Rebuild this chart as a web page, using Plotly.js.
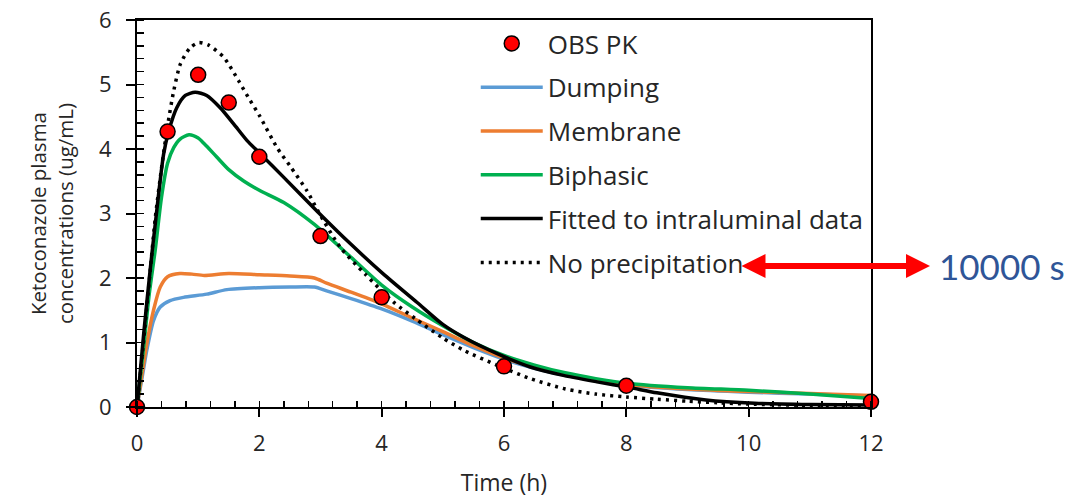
<!DOCTYPE html>
<html>
<head>
<meta charset="utf-8">
<script src="https://cdn.plot.ly/plotly-3.0.1.min.js"></script>
<style>html,body{margin:0;padding:0;background:#fff;}#chart{width:1076px;height:498px;}</style>
</head>
<body>
<div id="chart"></div>
<script>
// Observed PK
const obsT = [0, 0.5, 1, 1.5, 2, 3, 4, 6, 8, 12];
const obsC = [0, 4.27, 5.15, 4.72, 3.88, 2.65, 1.70, 0.63, 0.33, 0.08];

// Dumping
const dumpT = [0, 0.1, 0.16, 0.27, 0.38, 0.54, 0.76, 1.14, 1.47, 2.0, 2.5, 2.9, 3.1, 3.5, 4.0, 4.5, 5.0, 5.5, 6, 6.5, 7, 7.5, 8, 9, 10, 11, 12];
const dumpC = [0, 0.55, 0.88, 1.34, 1.55, 1.65, 1.70, 1.75, 1.82, 1.85, 1.86, 1.86, 1.80, 1.68, 1.52, 1.33, 1.12, 0.92, 0.74, 0.60, 0.49, 0.41, 0.34, 0.27, 0.23, 0.20, 0.17];

// Membrane
const memT = [0, 0.1, 0.16, 0.27, 0.38, 0.5, 0.7, 0.9, 1.1, 1.5, 2.0, 2.5, 2.9, 3.1, 3.5, 4.0, 4.5, 5.0, 5.5, 6, 6.5, 7, 7.5, 8, 9, 10, 11, 12];
const memC = [0, 0.62, 0.98, 1.50, 1.86, 2.02, 2.07, 2.06, 2.04, 2.07, 2.05, 2.03, 2.00, 1.92, 1.78, 1.60, 1.38, 1.17, 0.95, 0.76, 0.62, 0.51, 0.42, 0.35, 0.28, 0.24, 0.21, 0.18];

// Biphasic
const biT = [0, 0.1, 0.2, 0.3, 0.4, 0.5, 0.6, 0.7, 0.85, 1.0, 1.1, 1.3, 1.5, 1.75, 2.0, 2.4, 2.9, 3.5, 4.0, 4.5, 5, 5.5, 6, 6.5, 7, 7.5, 8, 9, 10, 11, 12];
const biC = [0, 0.85, 1.75, 2.45, 3.25, 3.78, 4.02, 4.15, 4.22, 4.17, 4.08, 3.88, 3.68, 3.50, 3.36, 3.17, 2.83, 2.32, 1.89, 1.55, 1.26, 1.00, 0.80, 0.65, 0.53, 0.44, 0.37, 0.30, 0.26, 0.20, 0.13];

// Fitted to intraluminal data
const fitT = [0, 0.11, 0.22, 0.3, 0.435, 0.52, 0.65, 0.79, 0.95, 1.14, 1.36, 1.58, 1.8, 2.0, 2.4, 2.94, 3.49, 4.03, 4.58, 5.0, 5.34, 5.88, 6.43, 6.97, 7.52, 8.06, 8.5, 9.3, 10.1, 11, 12];
const fitC = [0, 1.14, 2.17, 2.85, 3.92, 4.28, 4.64, 4.83, 4.88, 4.83, 4.64, 4.39, 4.13, 3.94, 3.56, 3.04, 2.53, 2.06, 1.62, 1.28, 1.08, 0.83, 0.62, 0.49, 0.39, 0.30, 0.22, 0.11, 0.06, 0.04, 0.03];

// No precipitation
const noPT = [0, 0.1, 0.2, 0.3, 0.41, 0.5, 0.6, 0.71, 0.87, 1.01, 1.17, 1.42, 1.66, 1.82, 2.0, 2.29, 2.5, 2.78, 2.97, 3.32, 3.73, 4.19, 4.55, 5.0, 5.34, 5.88, 6.43, 7.0, 7.5, 8.0, 8.5, 9.0, 9.5, 10, 11, 12];
const noPC = [0, 0.95, 1.95, 2.94, 3.77, 4.36, 4.90, 5.32, 5.57, 5.65, 5.61, 5.42, 5.06, 4.80, 4.52, 4.02, 3.74, 3.35, 3.02, 2.48, 2.06, 1.63, 1.37, 1.07, 0.88, 0.65, 0.44, 0.28, 0.20, 0.155, 0.12, 0.09, 0.065, 0.045, 0.025, 0.015];

const xTicks = [0, 2, 4, 6, 8, 10, 12];
const yTicks = [0, 1, 2, 3, 4, 5, 6];

const FONT = '"Open Sans", Lato, sans-serif';
const FONT2 = 'Lato, "Open Sans", sans-serif';

function line(name, x, y, color, rank, dash, width) {
  return {
    type: 'scatter', mode: 'lines', name: name, x: x, y: y,
    line: {color: color, width: width || 3.5, dash: dash || 'solid', shape: 'spline', smoothing: 0.7},
    legendgroup: name, legendrank: rank, cliponaxis: false
  };
}

const traces = [
  line('Dumping', dumpT, dumpC, '#5B9BD5', 2),
  line('Membrane', memT, memC, '#ED7D31', 3),
  line('Biphasic', biT, biC, '#00B050', 4),
  line('Fitted to intraluminal data', fitT, fitC, '#000000', 5),
  line('No precipitation', noPT, noPC, '#000000', 6, '3px,5px', 3.5),
  {
    type: 'scatter', mode: 'markers', name: 'OBS PK', x: obsT, y: obsC,
    marker: {color: '#FF0000', size: 15, line: {color: '#000000', width: 1.5}},
    legendgroup: 'OBS PK', legendrank: 1, cliponaxis: false
  }
];

const layout = {
  width: 1076, height: 498,
  margin: {l: 137, r: 205, t: 20, b: 91},
  paper_bgcolor: '#ffffff', plot_bgcolor: '#ffffff',
  font: {family: FONT, size: 22, color: '#262626'},
  showlegend: true,
  legend: {
    x: 0.4615, y: 1.0, xanchor: 'left', yanchor: 'top',
    bgcolor: 'rgba(0,0,0,0)', borderwidth: 0,
    font: {family: FONT, size: 26, color: '#262626'},
    itemwidth: 62, tracegroupgap: 7, traceorder: 'grouped'
  },
  xaxis: {
    range: [0, 12], tickvals: xTicks, ticktext: xTicks.map(String),
    showgrid: false, zeroline: false,
    showline: true, linecolor: '#000', linewidth: 2, mirror: true,
    ticks: 'outside', ticklen: 8, tickwidth: 2, tickcolor: '#000', ticklabelstandoff: 8,
    minor: {dtick: 0.4, ticks: 'inside', ticklen: 6, tickwidth: 1.5, tickcolor: '#000', showgrid: false},
    tickfont: {family: FONT, size: 22, color: '#262626'},
    title: {text: 'Time (h)', font: {family: FONT, size: 23, color: '#262626'}, standoff: 18},
    fixedrange: true
  },
  yaxis: {
    range: [0, 6], tickvals: yTicks, ticktext: yTicks.map(String),
    showgrid: false, zeroline: false,
    showline: true, linecolor: '#000', linewidth: 2, mirror: true,
    ticks: 'outside', ticklen: 9, tickwidth: 2, tickcolor: '#000', ticklabelstandoff: 10,
    minor: {dtick: 0.2, ticks: 'inside', ticklen: 7, tickwidth: 1.5, tickcolor: '#000', showgrid: false},
    tickfont: {family: FONT, size: 22, color: '#262626'},
    title: {text: 'Ketoconazole plasma<br>concentrations (ug/mL)', font: {family: FONT, size: 20.5, color: '#262626'}, standoff: 20},
    fixedrange: true
  },
  annotations: [
    {
      xref: 'paper', yref: 'paper', x: (930 - 137) / 734, y: (407 - 266) / 387,
      ax: -190, ay: 0, axref: 'pixel', ayref: 'pixel',
      text: '', showarrow: true, arrowside: 'end+start', arrowhead: 2, startarrowhead: 2,
      arrowsize: 0.8, startarrowsize: 0.8, arrowwidth: 6, arrowcolor: '#FF0000', standoff: 0, startstandoff: 0
    },
    {
      xref: 'paper', yref: 'paper', x: (1002 - 137) / 734, y: (407 - 266) / 387,
      xanchor: 'center', yanchor: 'middle', showarrow: false,
      text: '10000 s', font: {family: FONT2, size: 35, color: '#2F5597'}
    }
  ]
};

Plotly.newPlot('chart', traces, layout, {displayModeBar: false, staticPlot: true});
</script>
</body>
</html>
